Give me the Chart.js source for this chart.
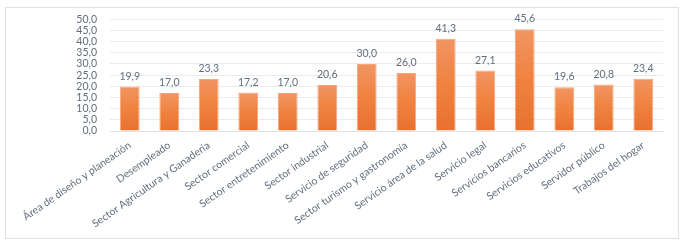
<!DOCTYPE html>
<html>
<head>
<meta charset="utf-8">
<script src="https://cdn.jsdelivr.net/npm/chart.js@4"></script>
<style>
  html, body { margin: 0; padding: 0; background: #fff; }
  #wrap { position: relative; width: 687px; height: 246px; }
  #frame { position: absolute; left: 5px; top: 7px; width: 672px; height: 230px; border: 1px solid #dde2e8; }
  canvas { position: absolute; left: 0; top: 0; }
</style>
</head>
<body>
<div id="wrap">
  <div id="frame"></div>
  <canvas id="chart" width="687" height="246"></canvas>
</div>
<script>
const categories = [
  'Área de diseño y planeación',
  'Desempleado',
  'Sector Agricultura y Ganadería',
  'Sector comercial',
  'Sector entretenimiento',
  'Sector industrial',
  'Servicio de seguridad',
  'Sector turismo y gastronomía',
  'Servicio área de la salud',
  'Servicio legal',
  'Servicios bancarios',
  'Servicios educativos',
  'Servidor público',
  'Trabajos del hogar'
];
const values = [19.9, 17.0, 23.3, 17.2, 17.0, 20.6, 30.0, 26.0, 41.3, 27.1, 45.6, 19.6, 20.8, 23.4];
const yTicks = [0, 5, 10, 15, 20, 25, 30, 35, 40, 45, 50];

const textColor = '#626d7c';
const fmt = v => v.toFixed(1).replace('.', ',');

// gradient per bar, lighter at the top like the Excel fill
function barFill(context) {
  const chart = context.chart;
  const y = chart.scales.y;
  if (!chart.chartArea || !y || context.dataIndex === undefined) return '#ee7b3a';
  const top = y.getPixelForValue(values[context.dataIndex]);
  const bottom = y.getPixelForValue(0);
  if (!isFinite(top) || !isFinite(bottom)) return '#ee7b3a';
  const g = chart.ctx.createLinearGradient(0, top, 0, bottom);
  g.addColorStop(0, '#f19563');
  g.addColorStop(0.5, '#f0823f');
  g.addColorStop(1, '#e8712f');
  return g;
}

const valueLabels = {
  id: 'valueLabels',
  afterDatasetsDraw(chart) {
    const ctx = chart.ctx;
    const meta = chart.getDatasetMeta(0);
    ctx.save();
    ctx.font = '10.5px Lato';
    ctx.fillStyle = textColor;
    ctx.textAlign = 'center';
    ctx.textBaseline = 'bottom';
    meta.data.forEach((bar, i) => {
      ctx.fillText(fmt(values[i]), bar.x, bar.y - 5);
    });
    ctx.restore();
  }
};

new Chart(document.getElementById('chart'), {
  type: 'bar',
  data: {
    labels: categories,
    datasets: [{
      data: values,
      backgroundColor: barFill,
      borderColor: '#f6a77a',
      borderWidth: 1,
      categoryPercentage: 1.0,
      barPercentage: 0.5
    }]
  },
  options: {
    responsive: false,
    animation: false,
    layout: { padding: { top: 14, right: 24, bottom: 0, left: 0 } },
    plugins: {
      legend: { display: false },
      tooltip: { enabled: false }
    },
    scales: {
      y: {
        min: 0,
        max: 50,
        afterFit(scale) { scale.width = 110; },
        afterBuildTicks(scale) { scale.ticks = yTicks.map(v => ({ value: v })); },
        ticks: {
          color: textColor,
          font: { family: 'Lato', size: 10.5 },
          padding: 13,
          autoSkip: false,
          callback: v => fmt(v)
        },
        grid: { color: '#e8ebf0', drawTicks: false },
        border: { display: false }
      },
      x: {
        afterFit(scale) { scale.height = 115; },
        ticks: {
          color: textColor,
          font: { family: 'Lato', size: 10.5 },
          minRotation: 35,
          maxRotation: 35,
          autoSkip: false,
          padding: 8
        },
        grid: { display: false, drawTicks: false },
        border: { color: '#dfe3e8' }
      }
    }
  },
  plugins: [valueLabels]
});
</script>
</body>
</html>
